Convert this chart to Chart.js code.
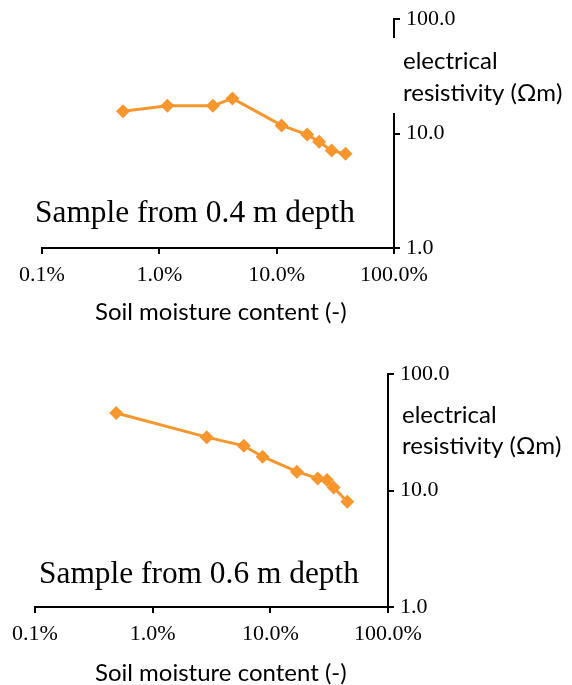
<!DOCTYPE html>
<html lang="en">
<head>
<meta charset="UTF-8" />
<title>Soil moisture vs electrical resistivity</title>
<script src="https://cdn.jsdelivr.net/npm/chart.js"></script>
<style>
  body { margin: 0; background: #fff; }
  .wrap { position: absolute; left: 0; width: 572px; }
  #top { top: 0; height: 340px; }
  #bottom { top: 340px; height: 345px; }
</style>
</head>
<body>
<div class="wrap" id="top"><canvas id="chart1"></canvas></div>
<div class="wrap" id="bottom"><canvas id="chart2"></canvas></div>
<script>
// soil moisture as a fraction (0.01 = 1.0%), resistivity in ohm metres
const moisture04 = [0.0049, 0.0117, 0.0286, 0.042, 0.110, 0.182, 0.230, 0.294, 0.386];
const resist04 = [15.7, 17.5, 17.5, 20.3, 11.8, 9.8, 8.5, 7.1, 6.65];
const moisture06 = [0.0049, 0.0288, 0.0595, 0.086, 0.168, 0.253, 0.303, 0.345, 0.451];
const resist06 = [46.2, 28.7, 24.2, 19.5, 14.5, 12.7, 12.3, 10.6, 8.0];
const xTicks = [0.001, 0.01, 0.1, 1];
const yTicks = [1, 10, 100];

const ORANGE = "rgb(247,150,45)";
const SERIF = "'Liberation Serif', 'Times New Roman', serif";
const SANS = "Lato, 'Open Sans', sans-serif";

// free text: axis titles (horizontal) and the sample captions
const textPlugin = {
  id: "freeText",
  afterDraw(chart, args, opts) {
    const ctx = chart.ctx;
    ctx.save();
    if (opts.mask) {
      ctx.fillStyle = "#fff";
      ctx.fillRect(opts.mask[0], opts.mask[1], opts.mask[2], opts.mask[3]);
    }
    ctx.fillStyle = "#000";
    ctx.textAlign = "left";
    ctx.textBaseline = "alphabetic";
    opts.items.forEach((t) => {
      ctx.font = t.font;
      ctx.fillText(t.text, t.x, t.y);
    });
    ctx.restore();
  },
};

function makeChart(id, xs, ys, box, items, mask) {
  const points = xs.map((x, i) => ({ x: x, y: ys[i] }));
  return new Chart(document.getElementById(id), {
    type: "line",
    data: {
      datasets: [
        {
          data: points,
          borderColor: ORANGE,
          backgroundColor: ORANGE,
          borderWidth: 3,
          pointStyle: "rectRot",
          pointRadius: 7,
          pointBorderWidth: 0,
          pointBackgroundColor: ORANGE,
          tension: 0,
          clip: false,
        },
      ],
    },
    options: {
      responsive: true,
      maintainAspectRatio: false,
      animation: false,
      layout: { padding: { left: box.left, top: box.top, right: 0, bottom: 0 } },
      plugins: {
        legend: { display: false },
        tooltip: { enabled: false },
        freeText: { items: items, mask: mask },
      },
      scales: {
        x: {
          type: "logarithmic",
          min: 0.001,
          max: 1,
          afterBuildTicks: (s) => { s.ticks = xTicks.map((v) => ({ value: v })); },
          afterFit: (s) => { s.height = box.xh; },
          grid: { drawOnChartArea: false, tickLength: 6, color: "#000", lineWidth: 2 },
          border: { display: true, color: "#000", width: 2 },
          ticks: {
            autoSkip: false,
            maxRotation: 0,
            padding: 8,
            color: "#000",
            font: { family: SERIF, size: 22 },
            callback: (v) => (v * 100).toFixed(1) + "%",
          },
        },
        y: {
          type: "logarithmic",
          position: "right",
          min: 1,
          max: 100,
          afterBuildTicks: (s) => { s.ticks = yTicks.map((v) => ({ value: v })); },
          afterFit: (s) => { s.width = box.yw; },
          grid: { drawOnChartArea: false, tickLength: 6, color: "#000", lineWidth: 2 },
          border: { display: true, color: "#000", width: 2 },
          ticks: {
            autoSkip: false,
            padding: 6,
            color: "#000",
            font: { family: SERIF, size: 22 },
            callback: (v) => Number(v).toFixed(1),
          },
        },
      },
    },
    plugins: [textPlugin],
  });
}

makeChart(
  "chart1", moisture04, resist04,
  { left: 42, top: 17, xh: 92, yw: 178 },
  [
    { text: "electrical", x: 403, y: 69, font: "24px " + SANS },
    { text: "resistivity (\u03A9m)", x: 403, y: 101, font: "24px " + SANS },
    { text: "Soil moisture content (-)", x: 95, y: 320, font: "24px " + SANS },
    { text: "Sample from 0.4 m depth", x: 35, y: 222, font: "31.4px " + SERIF },
  ],
  [390, 38, 182, 75]
);

makeChart(
  "chart2", moisture06, resist06,
  { left: 35, top: 34, xh: 78, yw: 184 },
  [
    { text: "electrical", x: 402, y: 83, font: "24px " + SANS },
    { text: "resistivity (\u03A9m)", x: 402, y: 114, font: "24px " + SANS },
    { text: "Soil moisture content (-)", x: 95, y: 341, font: "24px " + SANS },
    { text: "Sample from 0.6 m depth", x: 39, y: 243, font: "31.4px " + SERIF },
  ],
  null
);
</script>
</body>
</html>
